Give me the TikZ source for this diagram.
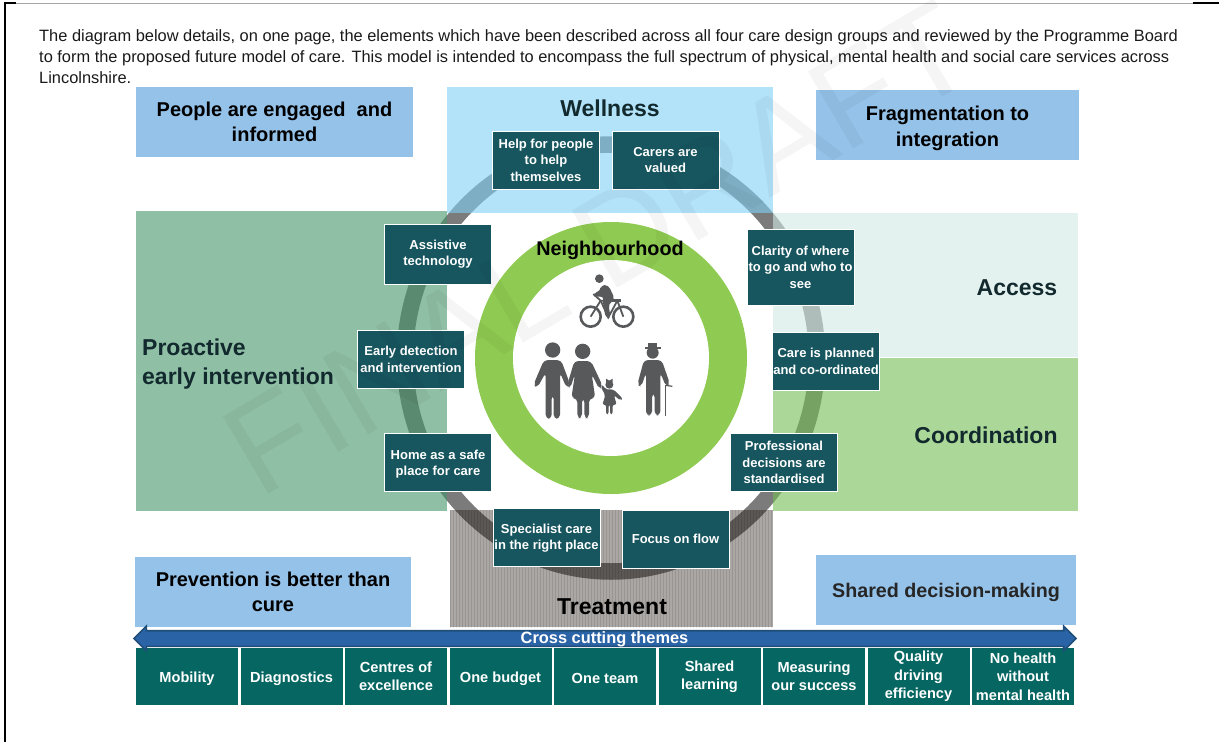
\documentclass[tikz,border=0pt]{standalone}
\usepackage{fontspec}
\setmainfont{Liberation Sans}
\usetikzlibrary{patterns,shapes.arrows}
\definecolor{aimblue}{HTML}{95C2E9}
\definecolor{wellblue}{RGB}{128,208,245}
\definecolor{proactgreen}{RGB}{68,148,105}
\definecolor{accesspale}{RGB}{208,232,228}
\definecolor{coordgreen}{RGB}{115,190,83}
\definecolor{treatgrey}{RGB}{45,35,28}
\definecolor{ringgreen}{HTML}{8FCB52}
\definecolor{ringgrey}{HTML}{7B7B7B}
\definecolor{careteal}{HTML}{17565F}
\definecolor{themeteal}{HTML}{066662}
\definecolor{arrowblue}{HTML}{2A63A6}
\definecolor{arrowedge}{HTML}{1F4E79}
\definecolor{figgrey}{HTML}{58595B}
\definecolor{darklabel}{HTML}{12292E}
\tikzset{
  carebox/.style={draw=white,line width=.8pt,fill=careteal,text=white,font=\fontsize{13}{16.5}\selectfont\bfseries,
    align=center,inner sep=0pt,minimum width=107pt,minimum height=58pt},
  themebox/.style={fill=themeteal,text=white,font=\fontsize{14.6}{18.5}\selectfont\bfseries,
    align=center,inner sep=0pt,minimum width=102pt,minimum height=56.5pt,execute at begin node=\rule{0pt}{15pt}},
  aimbox/.style={fill=aimblue,text=black,font=\fontsize{20}{25}\selectfont\bfseries,align=center,inner sep=0pt},
  bandlabel/.style={text=darklabel,font=\fontsize{23}{29}\selectfont\bfseries,align=left,inner sep=0pt},
  band/.style={opacity=.6},
  figure/.style={fill=figgrey,rounded corners=4pt}
}
\begin{document}
\begin{tikzpicture}[x=1pt,y=-1pt]
  \useasboundingbox (0,0) rectangle (1219,742);

  \draw[gray!70,line width=.8pt] (16,3)--(1193,3);
  \draw[black,line width=2pt] (16,3)--(5,3)--(5,742);
  \draw[black,line width=2pt] (1193,3)--(1219,3);

  \begin{scope}
    \clip (0,0) rectangle (1219,84);
    \node[anchor=north west,inner sep=0pt,align=left,text=black!90,font=\fontsize{16.4}{21}\selectfont] (intro) at (39,29)
      {The diagram below details, on one page, the elements which have been described across all four care design groups and reviewed by the Programme Board\\
       to form the proposed future model of care. This model is intended to encompass the full spectrum of physical, mental health and social care services across\\
       Lincolnshire.};
  \end{scope}

  \draw[ringgrey,line width=16.5pt] (611,358) ellipse [x radius=206,y radius=213.5];

  \fill[wellblue,band] (447,87) rectangle (773,213);
  \fill[proactgreen,band] (136,211) rectangle (447,511);
  \fill[accesspale,band] (773,213) rectangle (1078,357);
  \fill[coordgreen,band] (773,358) rectangle (1078,511);
  \fill[treatgrey,opacity=.4] (450,510) rectangle (773,627);
  \fill[pattern=vertical lines,pattern color=black,opacity=.1] (450,510) rectangle (773,627);

  \fill[ringgreen] (611,358) circle (136);
  \fill[white] (611,358) circle (98);

  \node[aimbox,minimum width=277pt,minimum height=70pt] (people) at (274.5,122) {People are engaged~ and\\informed};
  \node[aimbox,minimum width=263pt,minimum height=70pt,font=\fontsize{20}{26}\selectfont\bfseries] (fragment) at (947.5,125) {\rule{0pt}{21pt}Fragmentation to\\integration};
  \node[aimbox,minimum width=276pt,minimum height=70pt] (prevent) at (273,592) {Prevention is better than\\cure};
  \node[aimbox,minimum width=260pt,minimum height=70pt,text=black!85,font=\fontsize{19.7}{25}\selectfont\bfseries] (shared) at (946,590) {\rule{0pt}{20pt}Shared decision-making};

  \node[bandlabel] (wellness) at (610,108) {Wellness};
  \node[bandlabel,font=\fontsize{19.8}{25}\selectfont\bfseries,text=black] (hood) at (610,250) {Neighbourhood};
  \node[bandlabel,text=black] (treatment) at (612,607) {Treatment};
  \node[bandlabel] (access) at (1017,288) {Access};
  \node[bandlabel] (coord) at (986,435) {Coordination};
  \node[bandlabel,anchor=west] (proact) at (142,364) {Proactive\\early intervention};

  \node[carebox] (help) at (546,160) {Help for people\\to help\\themselves};
  \node[carebox] (carers) at (665.5,160) {Carers are\\valued};
  \node[carebox,minimum height=60pt] (assist) at (438,254) {Assistive\\technology};
  \node[carebox,minimum height=76pt] (clarity) at (800.5,267) {Clarity of where\\to go and who to\\see};
  \node[carebox] (early) at (411,359.5) {Early detection\\and intervention};
  \node[carebox] (planned) at (826,361.5) {Care is planned\\and co-ordinated};
  \node[carebox] (home) at (438,462.5) {\rule{0pt}{13pt}Home as a safe\\place for care};
  \node[carebox] (profess) at (784,462.5) {Professional\\decisions are\\standardised};
  \node[carebox] (special) at (546.5,537) {\rule{0pt}{12pt}Specialist care\\in the right place};
  \node[carebox] (focus) at (675.5,539) {Focus on flow};

  \begin{scope}[shift={(480,230)},scale=1/3]
    \fill[figgrey] (358,146) circle (13);
    \draw[figgrey,line width=2.6pt] (332,260) circle (30);
    \draw[figgrey,line width=2.6pt] (430,260) circle (30);
    \draw[figgrey,line width=1.8pt] (332,260)--(362,212)--(412,212)--(430,260);
    \draw[figgrey,line width=1.8pt] (340,192)--(362,212)--(385,262)--(412,212);
    \draw[figgrey,line width=2.4pt] (395,211)--(422,211);
    \fill[figure] (362,165)--(385,165)--(405,208)--(385,222)--(392,262)--(378,266)--(368,218)--(372,198)--(345,202)--(338,190)--(362,183)--cycle;

    \fill[figgrey] (218,360) circle (23);
    \fill[figure] (192,390)--(243,390)--(270,462)--(260,474)--(240,428)--(240,566)--(221,566)--(221,495)--(215,495)--(215,566)--(197,566)--(197,428)--(172,473)--(160,465)--cycle;
    \fill[figgrey] (308,364) circle (23);
    \fill[figure] (283,393)--(333,393)--(368,468)--(358,478)--(335,432)--(346,505)--(327,505)--(327,564)--(313,564)--(313,505)--(306,505)--(306,564)--(292,564)--(292,505)--(274,505)--(285,432)--(270,476)--(262,465)--cycle;
    \fill[figgrey] (388,464) circle (12);
    \fill[figgrey] (378,446)--(388,452)--(398,446)--(398,458)--(388,454)--(378,458)--cycle;
    \fill[figure,rounded corners=2pt] (376,478)--(400,478)--(428,506)--(422,512)--(402,496)--(410,524)--(398,524)--(398,552)--(390,552)--(390,524)--(386,524)--(386,552)--(378,552)--(378,524)--(367,524)--(376,496)--(362,470)--(368,464)--cycle;

    \fill[figgrey] (518,368) circle (18);
    \fill[figgrey] (505,340) rectangle (531,354);
    \fill[figgrey] (495,350) rectangle (543,356);
    \fill[figure] (492,390)--(545,390)--(570,462)--(558,470)--(541,428)--(541,556)--(524,556)--(524,490)--(516,490)--(516,556)--(498,556)--(498,428)--(484,470)--(472,464)--cycle;
    \draw[figgrey,line width=1.2pt] (557,466)--(557,557);
    \draw[figgrey,line width=1.2pt] (557,466)--(577,469);
  \end{scope}

  \node[themebox] (mobility) at (187,676.5) {Mobility};
  \node[themebox] (diagnos) at (291.5,676.5) {Diagnostics};
  \node[themebox] (centres) at (396,676.5) {Centres of\\excellence};
  \node[themebox] (budget) at (500.5,676.5) {One budget};
  \node[themebox] (team) at (605,676.5) {One team};
  \node[themebox] (learning) at (709.5,676.5) {Shared\\learning};
  \node[themebox] (measure) at (814,676.5) {Measuring\\our success};
  \node[themebox] (quality) at (918.5,676.5) {Quality\\driving\\efficiency};
  \node[themebox] (nohealth) at (1023,676.5) {No health\\without\\mental health};

  \node[double arrow,fill=arrowblue,draw=arrowedge,line width=1.6pt,minimum height=942pt,minimum width=24pt,
    double arrow head extend=4.5pt,inner sep=0pt] (cross) at (605,638.5) {\rule{0pt}{14pt}};
  \node[text=white,inner sep=0pt,font=\fontsize{16.4}{16}\selectfont\bfseries] (crosstext) at (604.5,639.5) {Cross cutting themes};

  \node[rotate=30.5,text=black,opacity=.04,font=\fontsize{130}{130}\selectfont] (mark) at (598,248) {FINAL DRAFT};
\end{tikzpicture}
\end{document}
